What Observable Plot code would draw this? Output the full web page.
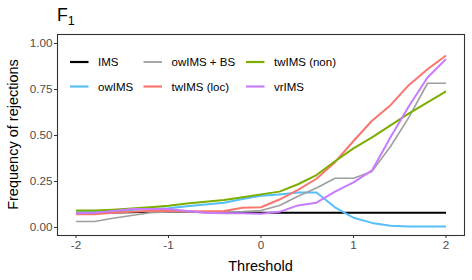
<!DOCTYPE html>
<html>
<head>
<meta charset="utf-8">
<script src="https://cdn.jsdelivr.net/npm/d3@7"></script>
<script src="https://cdn.jsdelivr.net/npm/@observablehq/plot@0.6"></script>
<style>
  html, body { margin: 0; padding: 0; background: #fff; }
</style>
</head>
<body>
<div id="chart"></div>
<script>
const thresholds = [-2, -1.8, -1.6, -1.4, -1.2, -1, -0.8, -0.6, -0.4, -0.2, 0, 0.2, 0.4, 0.6, 0.8, 1, 1.2, 1.4, 1.6, 1.8, 2];
const seriesNames = ["IMS", "owIMS", "owIMS + BS", "twIMS (loc)", "twIMS (non)", "vrIMS"];
const seriesColors = ["#000000", "#56BFF7", "#9E9E9E", "#F8766D", "#7CAE00", "#C77CFF"];
const IMS      = [0.08, 0.08, 0.082, 0.083, 0.085, 0.085, 0.085, 0.083, 0.083, 0.082, 0.08, 0.08, 0.08, 0.08, 0.08, 0.08, 0.08, 0.08, 0.08, 0.08, 0.08];
const owIMS    = [0.08, 0.085, 0.09, 0.095, 0.1, 0.105, 0.115, 0.125, 0.135, 0.155, 0.172, 0.18, 0.19, 0.19, 0.11, 0.053, 0.025, 0.009, 0.005, 0.005, 0.005];
const owIMS_BS = [0.033, 0.033, 0.05, 0.065, 0.08, 0.085, 0.085, 0.085, 0.085, 0.087, 0.092, 0.12, 0.17, 0.215, 0.268, 0.268, 0.305, 0.44, 0.6, 0.784, 0.784];
const twIMS_loc= [0.072, 0.072, 0.08, 0.085, 0.09, 0.09, 0.088, 0.088, 0.09, 0.107, 0.11, 0.152, 0.205, 0.265, 0.355, 0.47, 0.58, 0.665, 0.775, 0.86, 0.935];
const twIMS_non= [0.092, 0.093, 0.097, 0.103, 0.11, 0.118, 0.13, 0.14, 0.15, 0.165, 0.18, 0.195, 0.235, 0.285, 0.36, 0.43, 0.49, 0.555, 0.62, 0.68, 0.74];
const vrIMS    = [0.078, 0.08, 0.09, 0.1, 0.1, 0.1, 0.09, 0.08, 0.078, 0.078, 0.075, 0.085, 0.12, 0.135, 0.195, 0.245, 0.31, 0.49, 0.66, 0.815, 0.915];
const yTicks = [0, 0.25, 0.5, 0.75, 1];
const xTicks = [-2, -1, 0, 1, 2];

const seriesValues = [IMS, owIMS, owIMS_BS, twIMS_loc, twIMS_non, vrIMS];
const data = [];
seriesNames.forEach((name, i) => {
  thresholds.forEach((t, j) => data.push({series: name, t, v: seriesValues[i][j]}));
});

const W = 472, H = 280;
const mL = 57, mR = 8, mT = 34, mB = 45;
const font = "'Liberation Sans', Arial, sans-serif";

const plot = Plot.plot({
  width: W, height: H,
  marginLeft: mL, marginRight: mR, marginTop: mT, marginBottom: mB,
  style: {fontFamily: font, fontSize: "11.7px", background: "#fff", color: "#4d4d4d", overflow: "visible"},
  x: {domain: [-2.2, 2.2], label: null},
  y: {domain: [-0.0435, 1.049], label: null},
  color: {domain: seriesNames, range: seriesColors},
  marks: [
    Plot.axisX({ticks: xTicks, tickFormat: d => String(d), tickSize: 3, tickPadding: 2, stroke: "#333", fill: "#4d4d4d", label: null}),
    Plot.axisY({ticks: yTicks, tickFormat: d3.format(".2f"), tickSize: 3, tickPadding: 2, stroke: "#333", fill: "#4d4d4d", label: null}),
    Plot.line(data, {x: "t", y: "v", z: "series", stroke: "series",
      strokeWidth: d => d.series === "owIMS + BS" ? 1.6 : 2, strokeLinejoin: "round", strokeLinecap: "butt"}),
    Plot.frame({stroke: "#333", strokeWidth: 1.1})
  ]
});

document.getElementById("chart").appendChild(plot);

const svg = d3.select(plot);
// Title F with subscript 1
const title = svg.append("text").attr("x", mL).attr("y", 21).attr("text-anchor", "start")
  .attr("font-family", font).attr("font-size", 17.6).attr("fill", "#000");
title.append("tspan").text("F");
title.append("tspan").attr("font-size", 12.5).attr("dy", 4).text("1");

// Axis titles
svg.append("text").attr("x", (mL + W - mR) / 2).attr("y", 271)
  .attr("text-anchor", "middle").attr("font-family", font).attr("font-size", 14.5).attr("fill", "#000")
  .text("Threshold");
svg.append("text").attr("transform", `translate(18,${(mT + H - mB) / 2}) rotate(-90)`)
  .attr("text-anchor", "middle").attr("font-family", font).attr("font-size", 14.5).attr("fill", "#000")
  .text("Frequency of rejections");

// Legend (inside panel, column-major, 2 rows)
const colX = [70, 143.5, 246];
const rowY = [62, 86.5];
seriesNames.forEach((name, i) => {
  const c = Math.floor(i / 2), r = i % 2;
  const x0 = colX[c], y0 = rowY[r];
  svg.append("line").attr("x1", x0).attr("x2", x0 + 18.5).attr("y1", y0).attr("y2", y0)
    .attr("stroke", seriesColors[i]).attr("stroke-width", name === "owIMS + BS" ? 1.8 : 2.2);
  svg.append("text").attr("x", x0 + 28).attr("y", y0).attr("dy", "0.36em").attr("text-anchor", "start")
    .attr("font-family", font).attr("font-size", 11.5).attr("fill", "#000").text(name);
});
</script>
</body>
</html>
